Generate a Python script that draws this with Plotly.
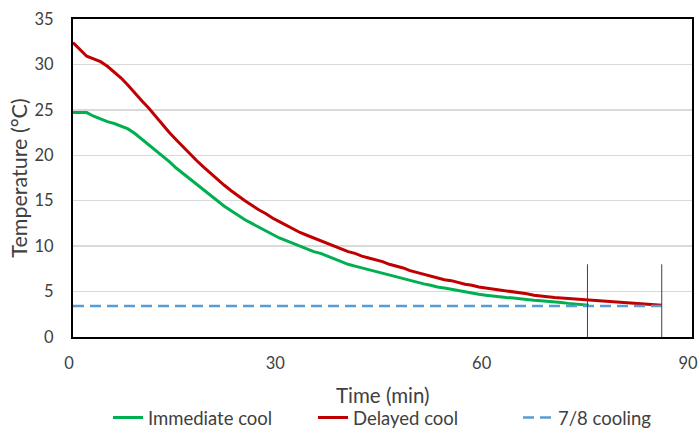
import plotly.graph_objects as go

# ---- data ----
time_immediate = list(range(0, 76))
temp_immediate = [24.7, 24.7, 24.7, 24.3, 24.0, 23.7, 23.5, 23.2, 22.9, 22.4,
                  21.8, 21.2, 20.5, 19.9, 19.3, 18.6, 18.0, 17.3, 16.7, 16.1,
                  15.5, 14.9, 14.4, 13.9, 13.4, 12.9, 12.5, 12.1, 11.7, 11.3,
                  10.9, 10.6, 10.3, 10.0, 9.7, 9.4, 9.2, 8.9, 8.6, 8.3,
                  8.0, 7.8, 7.6, 7.4, 7.2, 7.0, 6.8, 6.6, 6.4, 6.2,
                  6.0, 5.85, 5.7, 5.5, 5.4, 5.25, 5.1, 5.0, 4.85, 4.7,
                  4.6, 4.5, 4.45, 4.35, 4.3, 4.2, 4.1, 4.05, 4.0, 3.95,
                  3.85, 3.8, 3.7, 3.65, 3.55, 3.5]

time_delayed = list(range(0, 86)) + [85.6]
temp_delayed = [32.4, 31.6, 30.9, 30.6, 30.3, 29.8, 29.2, 28.5, 27.7, 26.8,
                26.0, 25.2, 24.3, 23.3, 22.5, 21.7, 20.9, 20.2, 19.4, 18.7,
                18.0, 17.3, 16.7, 16.1, 15.5, 15.0, 14.5, 14.0, 13.6, 13.1,
                12.7, 12.3, 11.9, 11.5, 11.2, 10.9, 10.6, 10.3, 10.0, 9.7,
                9.4, 9.2, 8.9, 8.7, 8.5, 8.3, 8.0, 7.8, 7.6, 7.3,
                7.1, 6.9, 6.7, 6.5, 6.3, 6.2, 6.0, 5.8, 5.7, 5.5,
                5.4, 5.3, 5.2, 5.1, 5.0, 4.85, 4.75, 4.6, 4.5, 4.4,
                4.35, 4.3, 4.25, 4.2, 4.15, 4.1, 4.05, 4.0, 3.9, 3.85,
                3.8, 3.75, 3.7, 3.65, 3.6, 3.55, 3.5]

cooling_time = [0, 85.6]
cooling_temp = [3.4, 3.4]

marker_times = [74.8, 85.6]
marker_range = [0, 8]

y_ticks = [0, 5, 10, 15, 20, 25, 30, 35]
x_ticks = [0, 30, 60, 90]

FONT = "Lato"
TXT = "#404040"

W, H = 699, 429
ML, MT, MR = 73, 19, 7
PLOT_W = W - ML - MR
PLOT_H = 318
MB = H - MT - PLOT_H

fig = go.Figure()
fig.add_trace(go.Scatter(x=time_immediate, y=temp_immediate, mode="lines",
                         name="Immediate cool",
                         line=dict(color="#00B050", width=3)))
fig.add_trace(go.Scatter(x=time_delayed, y=temp_delayed, mode="lines",
                         name="Delayed cool",
                         line=dict(color="#C00000", width=3)))
fig.add_trace(go.Scatter(x=cooling_time, y=cooling_temp, mode="lines",
                         name="7/8 cooling",
                         line=dict(color="#5B9BD5", width=2.5,
                                   dash="11px,6px")))
for t in marker_times:
    fig.add_trace(go.Scatter(x=[t, t], y=marker_range, mode="lines",
                             showlegend=False, hoverinfo="skip",
                             line=dict(color="#404040", width=1)))

fig.update_layout(
    width=W, height=H,
    margin=dict(l=ML, r=MR, t=MT, b=MB, autoexpand=False),
    paper_bgcolor="white", plot_bgcolor="white",
    font=dict(family=FONT, size=16, color=TXT),
    showlegend=True,
    legend=dict(orientation="h", x=35 / PLOT_W, xanchor="left",
                y=-(418 - 337) / PLOT_H, yanchor="middle",
                font=dict(family=FONT, size=18.5, color=TXT),
                entrywidth=160, entrywidthmode="pixels",
                bgcolor="rgba(0,0,0,0)"),
    annotations=[dict(text="Time (min)", x=0.5, y=-(395 - 337) / PLOT_H,
                      xref="paper", yref="paper", xanchor="center",
                      yanchor="middle", showarrow=False,
                      font=dict(family=FONT, size=20.5, color=TXT))],
)
fig.update_xaxes(range=[0, 90], tickvals=x_ticks, showgrid=False,
                 zeroline=False, showline=True, linecolor="black",
                 linewidth=2, mirror=True, ticks="", automargin=False,
                 ticklabelstandoff=10, ticklabelshift=-4,
                 ticklabeloverflow="allow",
                 tickfont=dict(family=FONT, size=16.5, color=TXT))
fig.update_yaxes(range=[0, 35], tickvals=y_ticks, showgrid=True,
                 gridcolor="#d9d9d9", gridwidth=1.5, zeroline=False,
                 showline=True, linecolor="black", linewidth=2, mirror=True,
                 ticks="", ticklabelstandoff=14, automargin=False,
                 ticklabeloverflow="allow",
                 tickfont=dict(family=FONT, size=16.5, color=TXT),
                 title=dict(text="Temperature (°C)", standoff=1,
                            font=dict(family=FONT, size=21.5, color=TXT)))

# remove the page's default body margin so the figure fills the window
fig.write_html("out.html",
               config={"displayModeBar": False, "staticPlot": True},
               post_script="document.body.style.margin='0';"
                           "document.body.style.overflow='hidden';")
